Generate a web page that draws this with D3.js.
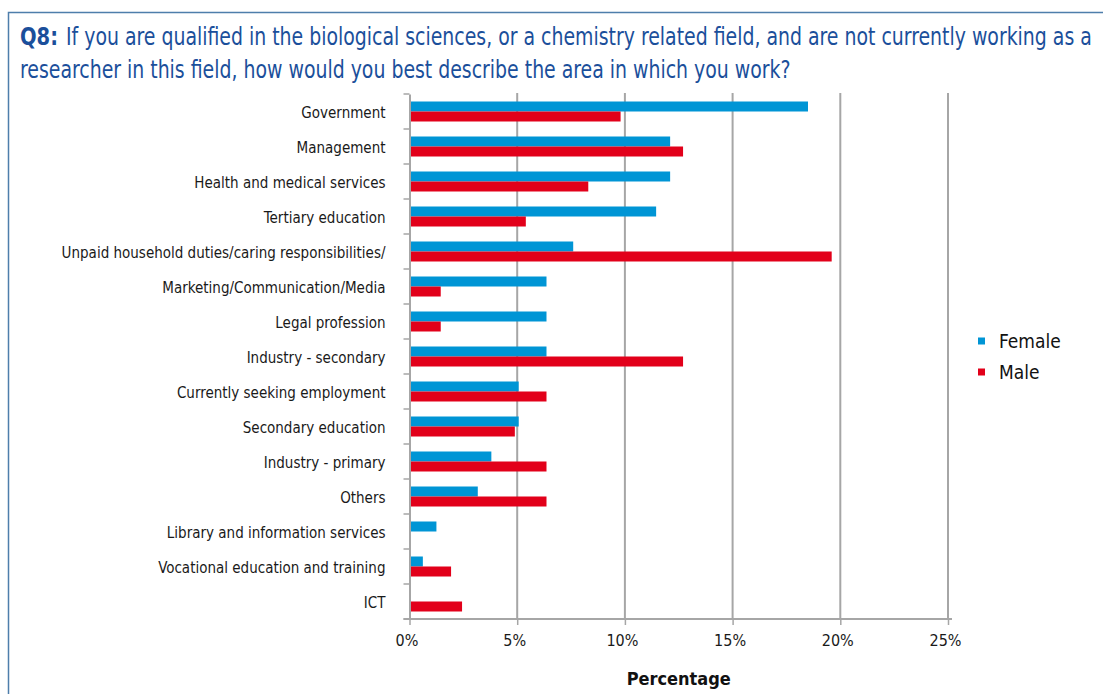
<!DOCTYPE html>
<html>
<head>
<meta charset="utf-8">
<script src="https://cdn.jsdelivr.net/npm/d3@7"></script>
<style>
  body { margin: 0; background: #fff; }
  svg text { font-family: "DejaVu Sans Condensed", "Liberation Sans Narrow", sans-serif; font-stretch: condensed; }
</style>
</head>
<body>
<div id="chart"></div>
<script>
const width = 1103
const height = 694

// data
const categories = [
  'Government', 'Management', 'Health and medical services', 'Tertiary education',
  'Unpaid household duties/caring responsibilities/', 'Marketing/Communication/Media',
  'Legal profession', 'Industry - secondary', 'Currently seeking employment',
  'Secondary education', 'Industry - primary', 'Others', 'Library and information services',
  'Vocational education and training', 'ICT'
];
const female = [18.5, 12.1, 12.1, 11.45, 7.6, 6.36, 6.36, 6.36, 5.07, 5.07, 3.8, 3.17, 1.25, 0.62, 0];
const male = [9.8, 12.7, 8.3, 5.4, 19.6, 1.45, 1.45, 12.7, 6.36, 4.89, 6.36, 6.36, 0, 1.93, 2.44];
const seriesNames = ['Female', 'Male'];
const seriesColors = ['#0095d5', '#e2001a'];
const xTicks = [0, 5, 10, 15, 20, 25];

const svg = d3.select('#chart').append('svg').attr('width', width).attr('height', height);

// frame
svg.append('rect')
  .attr('x', 8.5).attr('y', 12.5)
  .attr('width', width + 20).attr('height', height + 20)
  .attr('fill', 'none').attr('stroke', '#4e7eab').attr('stroke-width', 1.5);

// title - font size picked so the first line fits the same width as the original condensed face
const title = svg.append('g').attr('fill', '#1b4f9b');
title.append('text').attr('x', 20).attr('y', 45)
  .attr('font-weight', 'bold').style('font-size', '24px')
  .attr('textLength', 38).attr('lengthAdjust', 'spacingAndGlyphs')
  .text('Q8:');
const line1 = title.append('text').attr('x', 66).attr('y', 45).style('font-size', '24px')
  .text('If you are qualified in the biological sciences, or a chemistry related field, and are not currently working as a');
const line2 = title.append('text').attr('x', 20).attr('y', 78).style('font-size', '24px')
  .text('researcher in this field, how would you best describe the area in which you work?');
const fit = 1026 / line1.node().getComputedTextLength();
line1.style('font-size', (24 * fit) + 'px').attr('transform', 'translate(66,45) scale(1,' + (1 / fit) + ') translate(-66,-45)');
line2.style('font-size', (24 * fit) + 'px').attr('transform', 'translate(20,78) scale(1,' + (1 / fit) + ') translate(-20,-78)');

const plotLeft = 409.5, plotRight = 948, plotTop = 94, plotBottom = 619;

const x = d3.scaleLinear().domain([0, 25]).range([plotLeft, plotRight]);
const y = d3.scaleBand().domain(categories).range([plotTop, plotBottom]);
const sub = d3.scaleBand().domain(seriesNames).range([0, y.bandwidth()]).paddingOuter(0.75);

// gridlines
svg.append('g')
  .selectAll('line')
  .data(xTicks.slice(1))
  .enter().append('line')
  .attr('x1', d => x(d)).attr('x2', d => x(d))
  .attr('y1', plotTop - 1).attr('y2', plotBottom)
  .attr('stroke', '#a6a6a6').attr('stroke-width', 2);

// bars
const rows = categories.map((c, i) => ({ cat: c, values: [female[i], male[i]] }));
svg.append('g')
  .selectAll('g')
  .data(rows)
  .enter().append('g')
  .attr('transform', d => 'translate(0,' + y(d.cat) + ')')
  .selectAll('rect')
  .data(d => d.values.map((v, j) => ({ name: seriesNames[j], v: v, color: seriesColors[j] })))
  .enter().append('rect')
  .attr('x', x(0))
  .attr('y', d => sub(d.name))
  .attr('width', d => x(d.v) - x(0))
  .attr('height', sub.bandwidth())
  .attr('fill', d => d.color);

// y axis
const yAxis = svg.append('g')
  .attr('transform', 'translate(' + plotLeft + ',0)')
  .call(d3.axisLeft(y).tickSize(0).tickPadding(24));
yAxis.select('.domain').attr('stroke', '#a6a6a6').attr('stroke-width', 2);
yAxis.selectAll('text').style('font-size', '15px').attr('fill', '#1a1a1a').attr('dy', '0.45em');
yAxis.append('g')
  .selectAll('line')
  .data(d3.range(categories.length + 1))
  .enter().append('line')
  .attr('x1', -6).attr('x2', 0)
  .attr('y1', i => plotTop + i * y.step()).attr('y2', i => plotTop + i * y.step())
  .attr('stroke', '#a6a6a6').attr('stroke-width', 1.5);

// x axis
const xAxis = svg.append('g')
  .attr('transform', 'translate(0,' + plotBottom + ')')
  .call(d3.axisBottom(x).tickValues(xTicks).tickFormat(d => d + '%').tickSize(6).tickPadding(10).tickSizeOuter(0));
xAxis.select('.domain').attr('stroke', '#a6a6a6').attr('stroke-width', 2)
  .attr('d', 'M' + (plotLeft - 6) + ',0H' + (plotRight + 4));
xAxis.selectAll('.tick line').attr('stroke', '#a6a6a6').attr('stroke-width', 1.5);
xAxis.selectAll('text').style('font-size', '16px').attr('fill', '#1a1a1a').attr('dx', -3);

svg.append('text')
  .attr('x', (plotLeft + plotRight) / 2).attr('y', 685)
  .attr('text-anchor', 'middle')
  .attr('font-weight', 'bold')
  .style('font-size', '18px')
  .attr('fill', '#111')
  .text('Percentage');

// legend
const legend = svg.append('g')
  .selectAll('g')
  .data(seriesNames)
  .enter().append('g')
  .attr('transform', (d, i) => 'translate(978,' + (341 + i * 31) + ')');
legend.append('rect')
  .attr('x', 0).attr('y', -3.5).attr('width', 7).attr('height', 7)
  .attr('fill', (d, i) => seriesColors[i]);
legend.append('text')
  .attr('x', 21).attr('y', 0).attr('dy', '0.35em')
  .style('font-size', '19px').attr('fill', '#111')
  .text(d => d);
</script>
</body>
</html>
